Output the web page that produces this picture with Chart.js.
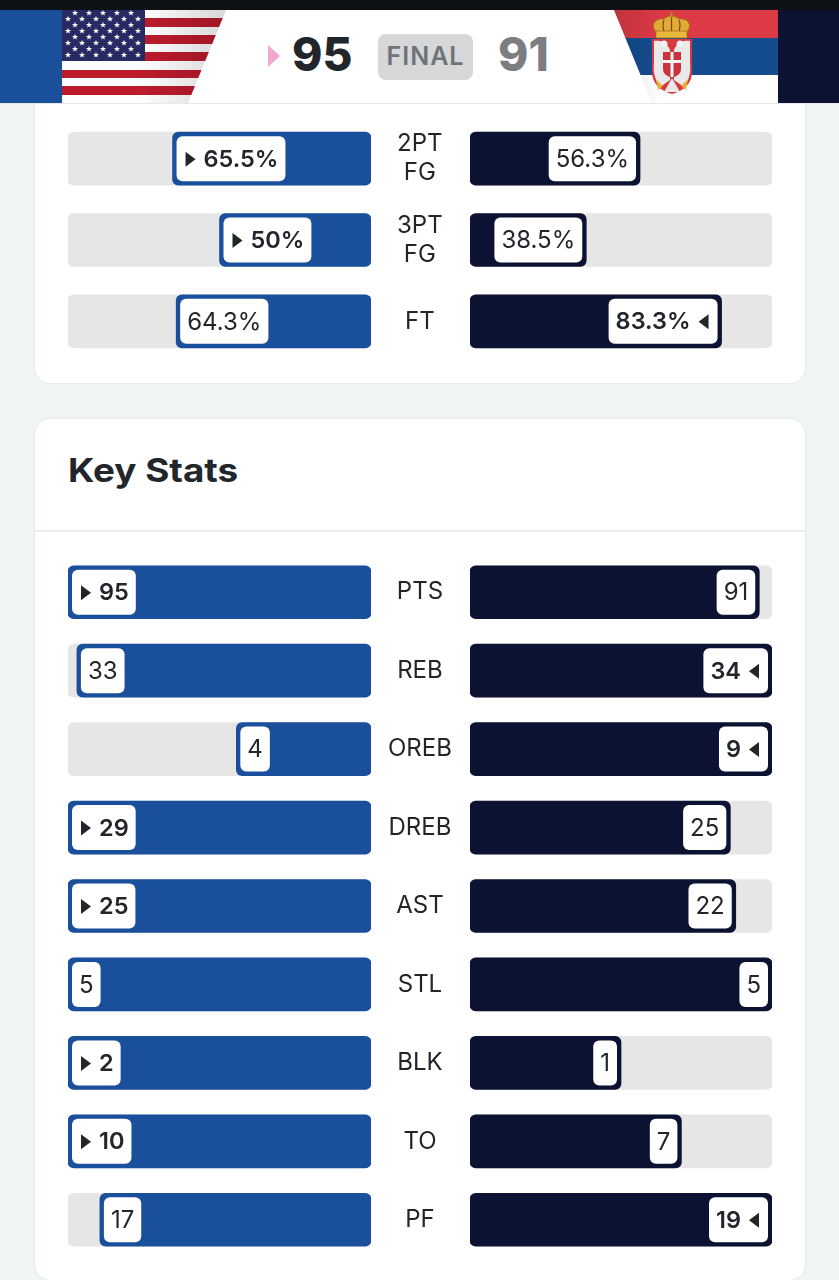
<!DOCTYPE html>
<html>
<head>
<meta charset="utf-8">
<title>Key Stats</title>
<script src="https://cdn.jsdelivr.net/npm/chart.js@4"></script>
<style>
  html, body { margin: 0; padding: 0; }
  body {
    position: relative;
    width: 839px;
    height: 1280px;
    overflow: hidden;
    background: #eff4f5;
    font-family: Inter, sans-serif;
    color: #22262b;
  }
  .abs { position: absolute; }
  .topbar { left: 0; top: 0; width: 839px; height: 10px; background: #0d1113; }
  .header { left: 0; top: 10px; width: 839px; height: 93px; background: #fff; border-bottom: 1px solid #e6e9ea; }
  .card { left: 34px; width: 770px; background: #fff; border: 1px solid #e5eaeb; border-radius: 16px; }
  .score { font-size: 46px; font-weight: 800; line-height: 46px; top: 31px; }
  .final {
    left: 378px; top: 34px; width: 95px; height: 46px; line-height: 45px;
    background: #d5d7d9; border-radius: 8px; text-align: center;
    color: #6f7376; font-size: 25px; font-weight: 600; letter-spacing: 1px;
  }
  .title {
    left: 68px; top: 450px; font-size: 33px; line-height: 40px; font-weight: 700;
    transform: scaleX(1.115); transform-origin: left center; white-space: nowrap;
  }
  .divider { left: 35px; top: 530px; width: 770px; height: 2px; background: #eceff0; }
  canvas { position: absolute; display: block; }
</style>
</head>
<body>
  <div class="abs card" style="top:60px;height:322px"></div>
  <div class="abs card" style="top:418px;height:861px"></div>
  <div class="abs divider"></div>

  <div class="abs topbar"></div>
  <div class="abs header"></div>
  <svg id="flags" class="abs" style="left:0;top:0" width="839" height="104" xmlns="http://www.w3.org/2000/svg">
    <defs>
      <linearGradient id="fadeUs" x1="0" x2="1" y1="0" y2="0">
        <stop offset="0.45" stop-color="#000" stop-opacity="0"/>
        <stop offset="1" stop-color="#000" stop-opacity="0.16"/>
      </linearGradient>
      <linearGradient id="fadeRs" x1="0" x2="1" y1="0" y2="0">
        <stop offset="0" stop-color="#000" stop-opacity="0.14"/>
        <stop offset="0.3" stop-color="#000" stop-opacity="0"/>
      </linearGradient>
      <clipPath id="clipUs"><polygon points="62,10 226,10 188,103 62,103"/></clipPath>
      <clipPath id="clipRs"><polygon points="614,10 778,10 778,103 652,103"/></clipPath>
    </defs>
    <rect x="0" y="10" width="62" height="93" fill="#1a4f9c"/>
    <rect x="778" y="10" width="61" height="93" fill="#0c1232"/>

    <g clip-path="url(#clipUs)">
      <rect x="62" y="10" width="170" height="93" fill="#fff"/>
      <rect x="62" y="18" width="170" height="9" fill="#bd1b2c"/>
      <rect x="62" y="35" width="170" height="9" fill="#bd1b2c"/>
      <rect x="62" y="52" width="170" height="9" fill="#bd1b2c"/>
      <rect x="62" y="70" width="170" height="8" fill="#bd1b2c"/>
      <rect x="62" y="86" width="170" height="9" fill="#bd1b2c"/>
      <rect x="62" y="10" width="83" height="51" fill="#282a63"/>
      <g id="stars" fill="#fff"></g>
      <rect x="62" y="10" width="166" height="93" fill="url(#fadeUs)"/>
    </g>

    <g clip-path="url(#clipRs)">
      <rect x="610" y="10" width="170" height="28" fill="#dc3a45"/>
      <rect x="610" y="38" width="170" height="37" fill="#144c8e"/>
      <rect x="610" y="75" width="170" height="28" fill="#fff"/>
      <rect x="610" y="10" width="170" height="93" fill="url(#fadeRs)"/>
    </g>
    <!-- crown -->
    <path d="M656 32 C650 24 656 18 664 19 C666 17 669 16 671.5 16 C674 16 677 17 679 19 C687 18 693 24 687 32 Z" fill="#e0ac34" stroke="#9c6d1a" stroke-width="0.7"/>
    <path d="M664 20 C662 24 663 28 664 32 M679 20 C681 24 680 28 679 32 M671.5 16 V32" fill="none" stroke="#8f3b2a" stroke-width="1.2"/>
    <rect x="670.5" y="12.5" width="2" height="5" fill="#b98a2a"/>
    <rect x="656" y="31" width="31" height="7" fill="#e6b93d" stroke="#9c6d1a" stroke-width="0.7"/>
    <!-- shield with eagle -->
    <path d="M652 39 H692 V72 C692 84 683 91 672 94 C661 91 652 84 652 72 Z" fill="#d8393f"/>
    <path d="M654 41 C660 40 667 42 670 50 L670 80 L660 87 C655 80 653 73 654 62 Z" fill="#e9e9e9"/>
    <path d="M690 41 C684 40 677 42 674 50 L674 80 L684 87 C689 80 691 73 690 62 Z" fill="#e9e9e9"/>
    <circle cx="664" cy="44" r="3.5" fill="#f1f1f1"/>
    <circle cx="680" cy="44" r="3.5" fill="#f1f1f1"/>
    <path d="M663 52 H681 V69 C681 74 677 76 672 78 C667 76 663 74 663 69 Z" fill="#c9343c"/>
    <rect x="670.5" y="52" width="3" height="25" fill="#f2f2f2"/>
    <rect x="663" y="60" width="18" height="3" fill="#f2f2f2"/>
    <path d="M664 92 L672 78 L680 92 Z" fill="#e9e9e9"/>
    <path d="M656 79 L663 86 L658 90 Z M688 79 L681 86 L686 90 Z" fill="#e2b23a"/>
    <!-- leading arrow beside the USA score -->
    <polygon points="268,45 280,56 268,67" fill="#f4a6cb"/>
  </svg>
  <div class="abs score" style="left:292px">95</div>
  <div class="abs final">FINAL</div>
  <div class="abs score" style="left:498px;color:#7b7d80">91</div>

  <div class="abs title">Key Stats</div>

  <canvas id="shootingLeft" style="left:68px;top:118px" width="402" height="244"></canvas>
  <canvas id="shootingRight" style="left:470px;top:118px" width="302" height="244"></canvas>
  <canvas id="keyLeft" style="left:68px;top:553px" width="402" height="706"></canvas>
  <canvas id="keyRight" style="left:470px;top:553px" width="302" height="706"></canvas>

<script>
const SHOOTING_LABELS = [["2PT", "FG"], ["3PT", "FG"], "FT"];
const SHOOTING_USA = [65.5, 50, 64.3];
const SHOOTING_SRB = [56.3, 38.5, 83.3];

const KEY_LABELS = ["PTS", "REB", "OREB", "DREB", "AST", "STL", "BLK", "TO", "PF"];
const KEY_USA = [95, 33, 4, 29, 25, 5, 2, 10, 17];
const KEY_SRB = [91, 34, 9, 25, 22, 5, 1, 7, 19];

const BLUE = "#1a4f9c";
const NAVY = "#0c1232";
const TRACK = "#e6e6e6";
const INK = "#22262b";

const FONT = "Inter, sans-serif";

// stars of the US canton
const starsGroup = document.getElementById("stars");
function starPath(cx, cy, r) {
  let pts = [];
  for (let i = 0; i < 10; i++) {
    const rad = i % 2 === 0 ? r : r * 0.42;
    const a = -Math.PI / 2 + (i * Math.PI) / 5;
    pts.push(`${cx + rad * Math.cos(a)},${cy + rad * Math.sin(a)}`);
  }
  return pts.join(" ");
}
for (let row = 0; row < 8; row++) {
  const odd = row % 2 === 1;
  const count = odd ? 6 : 5;
  for (let c = 0; c < count; c++) {
    const star = document.createElementNS("http://www.w3.org/2000/svg", "polygon");
    star.setAttribute("points", starPath((odd ? 68 : 75) + c * 14, 13 + row * 6, 3.2));
    starsGroup.appendChild(star);
  }
}

// Draws the white pill with the value (and the arrow for the row leader)
const pillPlugin = {
  id: "pill",
  afterDatasetsDraw(chart, args, opts) {
    const ctx = chart.ctx;
    const bars = chart.getDatasetMeta(0).data;
    bars.forEach((bar, i) => {
      const value = opts.values[i];
      const leader = value > opts.others[i];
      const text = opts.format(value);
      ctx.save();
      ctx.font = leader ? `600 23.5px ${FONT}` : `400 24px ${FONT}`;
      const textWidth = ctx.measureText(text).width;
      const pad = 7;
      const arrow = leader ? 20 : 0;
      const w = textWidth + pad * 2 + arrow;
      const top = bar.y - bar.height / 2 + 4;
      const h = bar.height - 8;
      const x = opts.side === "left" ? bar.x + 4 : bar.x - 4 - w;

      ctx.fillStyle = "#fff";
      ctx.beginPath();
      ctx.roundRect(x, top, w, h, 6);
      ctx.fill();

      ctx.fillStyle = INK;
      ctx.textBaseline = "middle";
      ctx.textAlign = "left";
      const textX = opts.side === "left" ? x + pad + arrow : x + pad;
      ctx.fillText(text, textX, bar.y + 1);

      if (leader) {
        ctx.beginPath();
        if (opts.side === "left") {
          ctx.moveTo(x + 9, bar.y - 7);
          ctx.lineTo(x + 19, bar.y + 0.5);
          ctx.lineTo(x + 9, bar.y + 8);
        } else {
          const ax = x + w - 9;
          ctx.moveTo(ax, bar.y - 7);
          ctx.lineTo(ax - 10, bar.y + 0.5);
          ctx.lineTo(ax, bar.y + 8);
        }
        ctx.closePath();
        ctx.fill();
      }
      ctx.restore();
    });
  },
};

function makeSide(canvasId, side, labels, shares, values, others, color, format, labelPad) {
  const isLeft = side === "left";
  return new Chart(document.getElementById(canvasId), {
    type: "bar",
    data: {
      labels: labels,
      datasets: [
        {
          data: shares,
          backgroundColor: color,
          borderRadius: 6,
          borderSkipped: false,
          barThickness: 53,
          order: 0,
        },
        {
          data: labels.map(() => 100),
          backgroundColor: TRACK,
          borderRadius: 6,
          borderSkipped: false,
          barThickness: 53,
          order: 1,
        },
      ],
    },
    plugins: [pillPlugin],
    options: {
      indexAxis: "y",
      responsive: false,
      animation: false,
      grouped: false,
      layout: { padding: 0 },
      scales: {
        x: {
          display: false,
          min: 0,
          max: 100,
          reverse: isLeft,
        },
        y: {
          display: isLeft,
          position: "right",
          // fixed gutter for the centre labels, no extra room for tall ones
          afterFit: (scale) => {
            if (isLeft) scale.width = 99;
            scale.paddingTop = 0;
            scale.paddingBottom = 0;
          },
          grid: { display: false, drawTicks: false },
          border: { display: false },
          ticks: {
            color: INK,
            padding: labelPad,
            crossAlign: "center",
            autoSkip: false,
            font: { family: FONT, size: 24, lineHeight: 1.2 },
          },
        },
      },
      plugins: {
        legend: { display: false },
        tooltip: { enabled: false },
        pill: { side, values, others, format },
      },
    },
  });
}

const asPercent = (v) => `${v}%`;
const asCount = (v) => `${v}`;

// key stats bars are drawn relative to the bigger value of the row
const keyShare = (a, b) => a.map((v, i) => (v / Math.max(v, b[i])) * 100);

makeSide("shootingLeft", "left", SHOOTING_LABELS, SHOOTING_USA, SHOOTING_USA, SHOOTING_SRB, BLUE, asPercent, 26);
makeSide("shootingRight", "right", SHOOTING_LABELS, SHOOTING_SRB, SHOOTING_SRB, SHOOTING_USA, NAVY, asPercent, 0);
makeSide("keyLeft", "left", KEY_LABELS, keyShare(KEY_USA, KEY_SRB), KEY_USA, KEY_SRB, BLUE, asCount, 17);
makeSide("keyRight", "right", KEY_LABELS, keyShare(KEY_SRB, KEY_USA), KEY_SRB, KEY_USA, NAVY, asCount, 0);
</script>
</body>
</html>
